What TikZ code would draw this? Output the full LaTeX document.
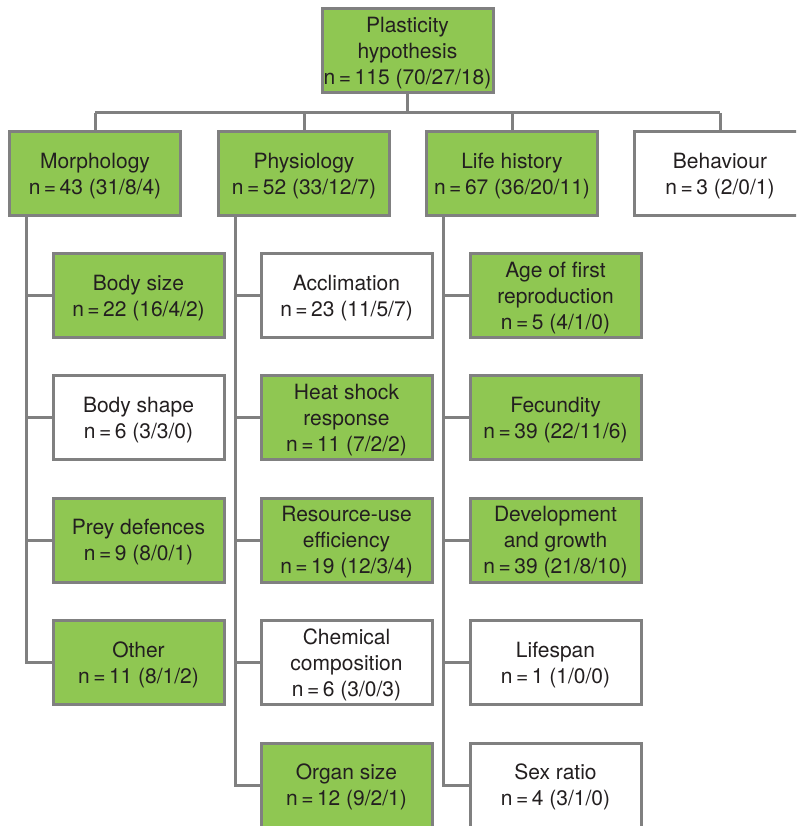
\documentclass[tikz,border=0pt]{standalone}
\usepackage{fontspec}
\setmainfont{TeX Gyre Heros}
\definecolor{leaf}{RGB}{143,199,82}
\definecolor{rim}{RGB}{128,128,128}
\definecolor{ink}{RGB}{35,31,32}
\newcommand{\nn}[1]{n\,=\,#1}
% centred stack of lines, drawn a little below the box centre
\newcommand{\lbl}[1]{\raisebox{-2.5pt}[\height][\depth]{\begin{tabular}{@{}c@{}}#1\end{tabular}}}
\begin{document}
\begin{tikzpicture}[x=1pt,y=-1pt,
  box/.style={draw=rim, line width=3pt, minimum width=171pt, minimum height=84pt,
    inner sep=0pt, text=ink, font=\fontsize{21}{26}\selectfont},
  hit/.style={box, fill=leaf},
  miss/.style={box, fill=white},
  conn/.style={draw=rim, line width=3pt, line join=miter}]
\useasboundingbox (0,0) rectangle (796,826);
\clip (0,0) rectangle (796,826);

% top level
\node[hit] (root) at (407.5,51) {\lbl{Plasticity\\hypothesis\\\nn{115} (70/27/18)}};

% categories
\node[hit]  (morph) at (95,173.5)  {\lbl{Morphology\\\nn{43} (31/8/4)}};
\node[hit]  (phys)  at (304,173.5) {\lbl{Physiology\\\nn{52} (33/12/7)}};
\node[hit]  (life)  at (512,173.5) {\lbl{Life history\\\nn{67} (36/20/11)}};
\node[miss] (behav) at (720,173.5) {\lbl{Behaviour\\\nn{3} (2/0/1)}};

% morphology traits
\node[hit]  (bsize)  at (138.5,295.5) {\lbl{Body size\\\nn{22} (16/4/2)}};
\node[miss] (bshape) at (138.5,417.5) {\lbl{Body shape\\\nn{6} (3/3/0)}};
\node[hit]  (prey)   at (138.5,540)   {\lbl{Prey defences\\\nn{9} (8/0/1)}};
\node[hit]  (other)  at (138.5,662.5) {\lbl{Other\\\nn{11} (8/1/2)}};

% physiology traits
\node[miss] (accl)  at (346.5,295.5) {\lbl{Acclimation\\\nn{23} (11/5/7)}};
\node[hit]  (heat)  at (346.5,417.5) {\lbl{Heat shock\\response\\\nn{11} (7/2/2)}};
\node[hit]  (reso)  at (346.5,540)   {\lbl{Resource-use\\efficiency\\\nn{19} (12/3/4)}};
\node[miss] (chem)  at (346.5,662.5) {\lbl{Chemical\\composition\\\nn{6} (3/0/3)}};
\node[hit]  (organ) at (346.5,785)   {\lbl{Organ size\\\nn{12} (9/2/1)}};

% life-history traits
\node[hit]  (age)   at (555.5,295.5) {\lbl{Age of first\\reproduction\\\nn{5} (4/1/0)}};
\node[hit]  (fec)   at (555.5,417.5) {\lbl{Fecundity\\\nn{39} (22/11/6)}};
\node[hit]  (dev)   at (555.5,540)   {\lbl{Development\\and growth\\\nn{39} (21/8/10)}};
\node[miss] (span)  at (555.5,662.5) {\lbl{Lifespan\\\nn{1} (1/0/0)}};
\node[miss] (sex)   at (555.5,785)   {\lbl{Sex ratio\\\nn{4} (3/1/0)}};

% bus from the root to the categories
\coordinate (bus) at (0,113);
\draw[conn] (root.south) -- (root.south |- bus);
\draw[conn] (morph.north |- bus) -- (behav.north |- bus);
\foreach \c in {morph,phys,life,behav}
  \draw[conn] (\c.north |- bus) -- (\c.north);

% trunks down the left side of each category
\coordinate (tm) at ([xshift=18pt]morph.south west);
\coordinate (tp) at ([xshift=18pt]phys.south west);
\coordinate (tl) at ([xshift=18pt]life.south west);
\draw[conn] (tm) |- (other.west);
\draw[conn] (tp) |- (organ.west);
\draw[conn] (tl) |- (sex.west);
\foreach \c in {bsize,bshape,prey}
  \draw[conn] (\c.west) -- (\c.west -| tm);
\foreach \c in {accl,heat,reso,chem}
  \draw[conn] (\c.west) -- (\c.west -| tp);
\foreach \c in {age,fec,dev,span}
  \draw[conn] (\c.west) -- (\c.west -| tl);
\end{tikzpicture}
\end{document}
